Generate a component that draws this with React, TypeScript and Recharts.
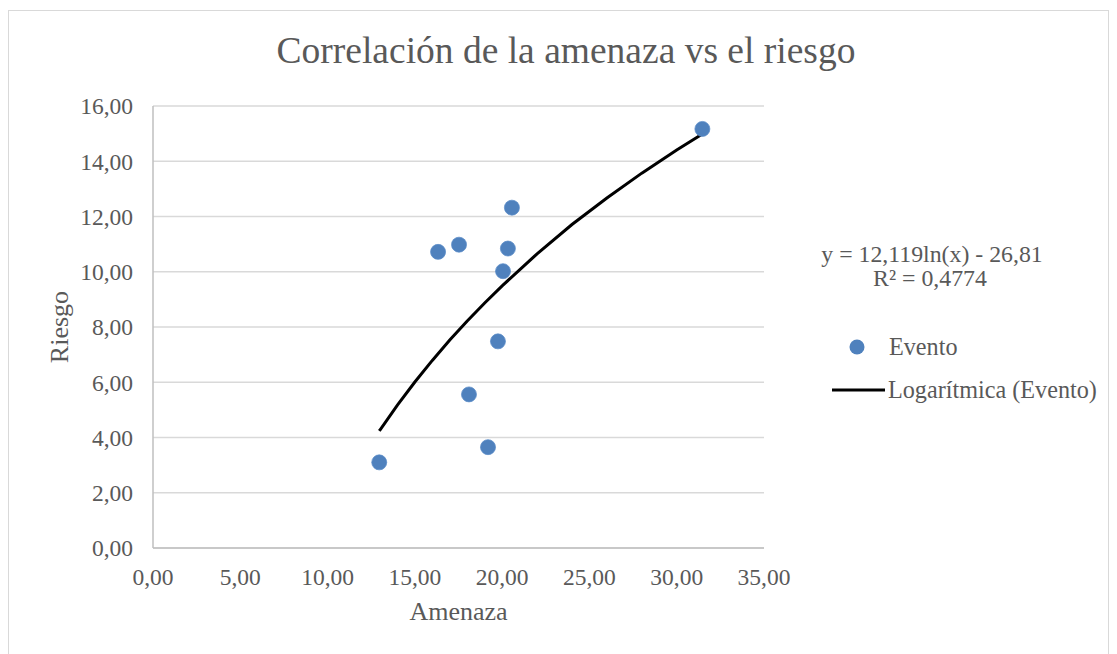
import React from 'react';
import { ScatterChart, Scatter, XAxis, YAxis, CartesianGrid, Label, Customized } from 'recharts';

const amenaza = [12.96, 16.33, 17.53, 18.1, 19.19, 19.76, 20.05, 20.33, 20.56, 31.47];
const riesgo = [3.1, 10.72, 10.98, 5.56, 3.65, 7.48, 10.02, 10.84, 12.32, 15.17];

const trendX = [12.96, 13, 14, 15, 16, 17, 18, 19, 20, 22, 24, 26, 28, 30, 31.47];
const trendY = [4.24, 4.27, 5.17, 6.01, 6.79, 7.53, 8.22, 8.87, 9.49, 10.65, 11.71, 12.67, 13.57, 14.41, 14.99];

const xTicks = [0, 5, 10, 15, 20, 25, 30, 35];
const yTicks = [0, 2, 4, 6, 8, 10, 12, 14, 16];

const titleText = 'Correlación de la amenaza vs el riesgo';
const equationText = 'y = 12,119ln(x) - 26,81';
const r2Text = 'R² = 0,4774';
const seriesName = 'Evento';
const trendName = 'Logarítmica (Evento)';

const events = amenaza.map((x, i) => ({ x, y: riesgo[i] }));
const trend = trendX.map((x, i) => ({ x, y: trendY[i] }));

const FONT = '"Liberation Serif", "Times New Roman", serif';
const TXT = '#595959';
const BLUE = '#4f81bd';

const fmt = (v: number) => v.toFixed(2).replace('.', ',');

const Dot = (props: any) => {
  const { cx, cy } = props;
  if (cx == null || cy == null) return null;
  return <circle cx={cx} cy={cy} r={7.5} fill={BLUE} stroke="#5b8cc8" strokeWidth={0.75} />;
};

const NoDot = () => null;

const Extras = () => (
  <g fontFamily={FONT}>
    <text x={566} y={63} textAnchor="middle" fontSize={37.5} fill={TXT}>{titleText}</text>
    <text x={932} y={262} textAnchor="middle" fontSize={23.8} fill={TXT}>{equationText}</text>
    <text x={930} y={286} textAnchor="middle" fontSize={23.8} fill={TXT}>{r2Text}</text>
    <circle cx={857} cy={347} r={7.5} fill={BLUE} />
    <text x={889} y={355} fontSize={24.2} fill={TXT}>{seriesName}</text>
    <line x1={832} y1={390} x2={885} y2={390} stroke="#000" strokeWidth={3} />
    <text x={888} y={398} fontSize={24.2} fill={TXT}>{trendName}</text>
  </g>
);

export default function App() {
  return (
    <div style={{ position: 'absolute', left: 0, top: 0, width: 1117, height: 654, overflow: 'hidden', background: '#fff' }}>
      <div style={{ position: 'absolute', left: 8, top: 10, width: 1099, height: 644, borderTop: '1px solid #d9d9d9', borderLeft: '1px solid #d9d9d9', borderRight: '1px solid #d9d9d9' }} />
      <div style={{ position: 'absolute', left: 0, top: 0 }}>
        <ScatterChart width={1117} height={654} margin={{ top: 106, right: 353, bottom: 26, left: 73 }}>
          <CartesianGrid horizontal vertical={false} stroke="#d9d9d9" strokeWidth={1.5} />
          <XAxis
            type="number"
            dataKey="x"
            domain={[0, 35]}
            ticks={xTicks}
            interval={0}
            tickFormatter={fmt}
            height={80}
            axisLine={{ stroke: '#bfbfbf', strokeWidth: 1.5 }}
            tickLine={false}
            tickSize={8}
            tickMargin={12}
            tick={{ fill: TXT, fontSize: 23.5, fontFamily: FONT }}
          >
            <Label value="Amenaza" position="insideBottom" offset={8} style={{ fill: TXT, fontSize: 26, fontFamily: FONT }} />
          </XAxis>
          <YAxis
            type="number"
            dataKey="y"
            domain={[0, 16]}
            ticks={yTicks}
            interval={0}
            tickFormatter={fmt}
            width={80}
            axisLine={{ stroke: '#bfbfbf', strokeWidth: 1.5 }}
            tickLine={false}
            tickSize={8}
            tickMargin={12}
            tick={{ fill: TXT, fontSize: 23.5, fontFamily: FONT }}
          >
            <Label value="Riesgo" angle={-90} position="insideLeft" offset={-14} style={{ fill: TXT, fontSize: 26, fontFamily: FONT, textAnchor: 'middle' }} />
          </YAxis>
          <Scatter name={trendName} data={trend} line={{ stroke: '#000', strokeWidth: 3 }} shape={NoDot} isAnimationActive={false} />
          <Scatter name={seriesName} data={events} shape={Dot} isAnimationActive={false} />
          <Customized component={Extras} />
        </ScatterChart>
      </div>
    </div>
  );
}
